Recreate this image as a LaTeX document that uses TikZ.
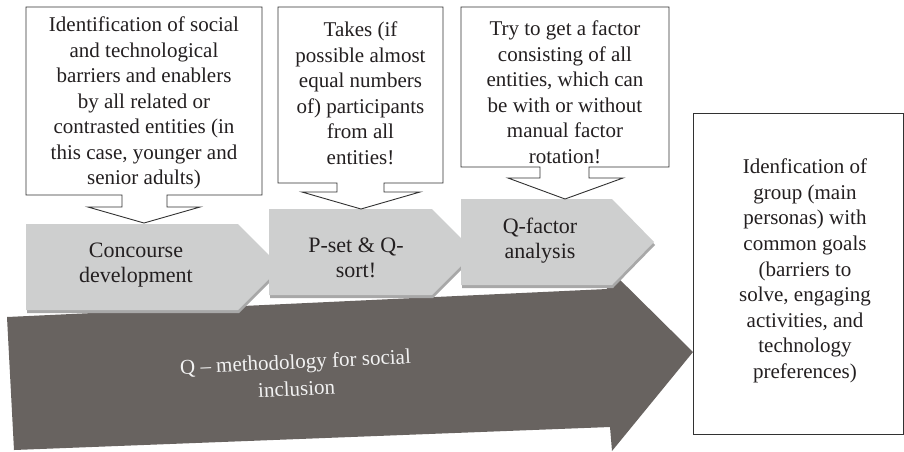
\documentclass[tikz,border=0pt]{standalone}
\usepackage{fontspec}
\setmainfont{Liberation Serif}
\definecolor{chevgray}{RGB}{206,207,207}
\definecolor{shadowgray}{RGB}{168,168,168}
\definecolor{darkarrow}{RGB}{104,99,96}
\definecolor{textdark}{RGB}{35,31,32}
\definecolor{boxline}{RGB}{50,50,50}
\definecolor{lighttext}{RGB}{242,242,242}
\begin{document}
\begin{tikzpicture}[x=1pt,y=-1pt,
  callout/.style={draw=boxline, line width=0.9pt, fill=white, line join=miter},
  chevfill/.style={fill=chevgray},
  chevshade/.style={fill=shadowgray},
  boxtext/.style={align=center, font=\fontsize{21}{25.5}\selectfont, text=textdark, inner sep=0pt},
  chevtext/.style={align=center, font=\fontsize{22}{25}\selectfont, text=textdark, inner sep=0pt},
  arrowtext/.style={align=center, font=\fontsize{21}{27}\selectfont, text=lighttext, inner sep=0pt, rotate=2.6}]
\useasboundingbox (0,0) rectangle (904,451);
\fill[white] (0,0) rectangle (904,451);

% big dark arrow
\fill[darkarrow] (7,317) -- (607,289) -- (605,265) -- (693,352) -- (612,451) -- (610,427) -- (14,450) -- cycle;
\node[arrowtext] (qmeth) at (296,375) {Q -- methodology for social\\inclusion};

% chevron 1
\fill[chevshade,shift={(1,3)}] (26,224) -- (238,224) -- (281,267) -- (238,310) -- (26,310) -- cycle;
\fill[chevfill] (26,224) -- (238,224) -- (281,267) -- (238,310) -- (26,310) -- cycle;
\node[chevtext] (c1) at (136,265) {Concourse\\development};

% chevron 2
\fill[chevshade,shift={(1,3)}] (269,209) -- (432,209) -- (475,252) -- (432,295) -- (269,295) -- cycle;
\fill[chevfill] (269,209) -- (432,209) -- (475,252) -- (432,295) -- (269,295) -- cycle;
\node[chevtext] (c2) at (356,258) {P-set \& Q-\\sort!};

% chevron 3
\fill[chevshade,shift={(1,3)}] (461,199) -- (612,199) -- (654,242) -- (612,285) -- (461,285) -- cycle;
\fill[chevfill] (461,199) -- (612,199) -- (654,242) -- (612,285) -- (461,285) -- cycle;
\node[chevtext] (c3) at (540,241) {Q-factor\\analysis};

% callout 1
\draw[callout] (26,7) -- (262,7) -- (262,195) -- (167,195) -- (167,207) -- (200,207) -- (144,223)
  -- (88,207) -- (122,207) -- (122,195) -- (26,195) -- cycle;
\node[boxtext] (b1) at (144,103) {Identification of social\\and technological\\barriers and enablers\\by all related or\\contrasted entities (in\\this case, younger and\\senior adults)};

% callout 2
\draw[callout] (278,7) -- (443,7) -- (443,183) -- (384,183) -- (384,192) -- (420,192) -- (361,209)
  -- (302,192) -- (337,192) -- (337,183) -- (278,183) -- cycle;
\node[boxtext] (b2) at (360.5,93) {Takes (if\\possible almost\\equal numbers\\of) participants\\from all\\entities!};

% callout 3
\draw[callout] (461,7) -- (669,7) -- (669,167) -- (589,167) -- (589,178) -- (623,178) -- (565,199)
  -- (508,178) -- (540,178) -- (540,167) -- (461,167) -- cycle;
\node[boxtext] (b3) at (565,92) {Try to get a factor\\consisting of all\\entities, which can\\be with or without\\manual factor\\rotation!};

% result box
\draw[callout] (693,113) rectangle (903,434);
\node[boxtext, font=\fontsize{21}{25.6}\selectfont] (goal) at (805,271) {Idenfication of\\group (main\\personas) with\\common goals\\(barriers to\\solve, engaging\\activities, and\\technology\\preferences)};
\end{tikzpicture}
\end{document}
